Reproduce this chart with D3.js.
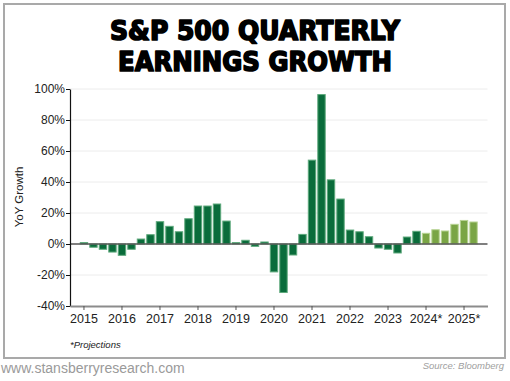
<!DOCTYPE html>
<html>
<head>
<meta charset="utf-8">
<script src="https://cdn.jsdelivr.net/npm/d3@7"></script>
<style>
  html, body { margin: 0; padding: 0; background: #fff; }
  svg { display: block; }
</style>
</head>
<body>
<svg id="chart" width="510" height="381"></svg>
<script>
// ---- Data ----
const years = ["2015","2016","2017","2018","2019","2020","2021","2022","2023","2024","2025"];
const yearLabels = ["2015","2016","2017","2018","2019","2020","2021","2022","2023","2024*","2025*"];
const quarters = ["Q1","Q2","Q3","Q4"];
const categories = [];
years.forEach(y => quarters.forEach(q => { if (!(y === "2025" && (q === "Q3" || q === "Q4"))) categories.push(y + " " + q); }));
const growth = [
  0.9, -2.1, -3.4, -5.2,
  -7.3, -3.4, 3.2, 6.0,
  14.4, 11.4, 7.9, 16.3,
  24.5, 24.5, 25.8, 14.8,
  0.9, 2.4, -1.5, 1.3,
  -18.0, -31.3, -7.1, 6.2,
  54.1, 96.4, 41.4, 29.0,
  9.0, 7.9, 4.7, -2.6,
  -3.4, -5.8, 4.5, 8.2,
  6.9, 9.2, 8.4, 12.7,
  15.2, 14.2
];
const projectedFrom = "2024 Q1";
const yTicks = [-40, -20, 0, 20, 40, 60, 80, 100];
const titleLines = ["S&P 500 QUARTERLY", "EARNINGS GROWTH"];

// ---- Layout ----
const svg = d3.select("#chart");
const plotLeft = 70, plotRight = 487.5, plotTop = 89, plotBottom = 306;

// frame
svg.append("rect").attr("x", 4).attr("y", 4).attr("width", 501).attr("height", 354)
  .attr("fill", "#fff").attr("stroke", "#a9a9a9").attr("stroke-width", 2);

// title
const titleFont = "'DejaVu Sans', 'Liberation Sans', sans-serif";
const titleY = [39.5, 70.5], titleW = [290, 274];
titleLines.forEach((t, i) => {
  svg.append("text").attr("x", 255).attr("y", titleY[i]).attr("text-anchor", "middle")
    .attr("font-family", titleFont).attr("font-weight", "bold").attr("font-size", 26.5)
    .attr("stroke", "#000").attr("stroke-width", 1.7).attr("stroke-linejoin", "round").attr("fill", "#000")
    .attr("textLength", titleW[i]).attr("lengthAdjust", "spacingAndGlyphs").text(t);
});

// scales
const x = d3.scaleBand().domain(categories).range([plotLeft, plotRight])
  .paddingInner(0.22).paddingOuter(1.08);
const y = d3.scaleLinear().domain([-40, 100]).range([plotBottom, plotTop]);

// gridlines
svg.append("g").selectAll("line").data(yTicks.filter(t => t !== 0 && t !== -40)).join("line")
  .attr("x1", plotLeft).attr("x2", plotRight).attr("y1", d => y(d)).attr("y2", d => y(d))
  .attr("stroke", "#ececec").attr("stroke-width", 1);

// bars
const projIndex = categories.indexOf(projectedFrom);
svg.append("g").selectAll("rect").data(categories).join("rect")
  .attr("x", d => x(d))
  .attr("width", x.bandwidth())
  .attr("y", (d, i) => y(Math.max(0, growth[i])))
  .attr("height", (d, i) => Math.abs(y(growth[i]) - y(0)))
  .attr("fill", (d, i) => i >= projIndex ? "#7aa545" : "#0a6c3b")
  .attr("stroke", (d, i) => i >= projIndex ? "#b8d393" : "#5ea97c")
  .attr("stroke-width", 1);

// zero line
svg.append("line").attr("x1", plotLeft).attr("x2", plotRight).attr("y1", y(0)).attr("y2", y(0))
  .attr("stroke", "#555").attr("stroke-width", 1.5);

const axisFont = "'Liberation Sans', Arial, sans-serif";

// y axis
const yAxis = svg.append("g").attr("transform", `translate(${plotLeft},0)`)
  .call(d3.axisLeft(y).tickValues(yTicks).tickFormat(d => d + "%").tickSize(4).tickSizeOuter(0));
yAxis.select(".domain").attr("stroke", "#111").attr("stroke-width", 1.2);
yAxis.selectAll(".tick line").attr("stroke", "#111");
yAxis.selectAll(".tick text").attr("font-family", axisFont).attr("font-size", 12).attr("fill", "#222").attr("x", -5);

// x axis
const q1 = categories.filter(c => c.endsWith("Q1"));
const xAxis = svg.append("g").attr("transform", `translate(0,${plotBottom})`)
  .call(d3.axisBottom(x).tickValues(q1).tickFormat((d, i) => yearLabels[i]).tickSize(4).tickSizeOuter(0));
xAxis.select(".domain").attr("stroke", "#8c8c8c").attr("stroke-width", 2);
xAxis.selectAll(".tick line").attr("stroke", "#555");
xAxis.selectAll(".tick text").attr("font-family", axisFont).attr("font-size", 12.5).attr("fill", "#222").attr("y", 8);

// y label
svg.append("text").attr("transform", "translate(23,197) rotate(-90)").attr("text-anchor", "middle")
  .attr("font-family", axisFont).attr("font-size", 11.5).attr("fill", "#222").text("YoY Growth");

// footnotes
svg.append("text").attr("x", 70).attr("y", 348).attr("font-family", axisFont)
  .attr("font-style", "italic").attr("font-size", 9.5).attr("fill", "#222").text("*Projections");
svg.append("text").attr("x", 1).attr("y", 373).attr("font-family", axisFont)
  .attr("font-size", 14).attr("fill", "#9a9a9a").text("www.stansberryresearch.com");
svg.append("text").attr("x", 504).attr("y", 369).attr("text-anchor", "end").attr("font-family", axisFont)
  .attr("font-style", "italic").attr("font-size", 9.5).attr("fill", "#a0a0a0").text("Source: Bloomberg");
</script>
</body>
</html>
